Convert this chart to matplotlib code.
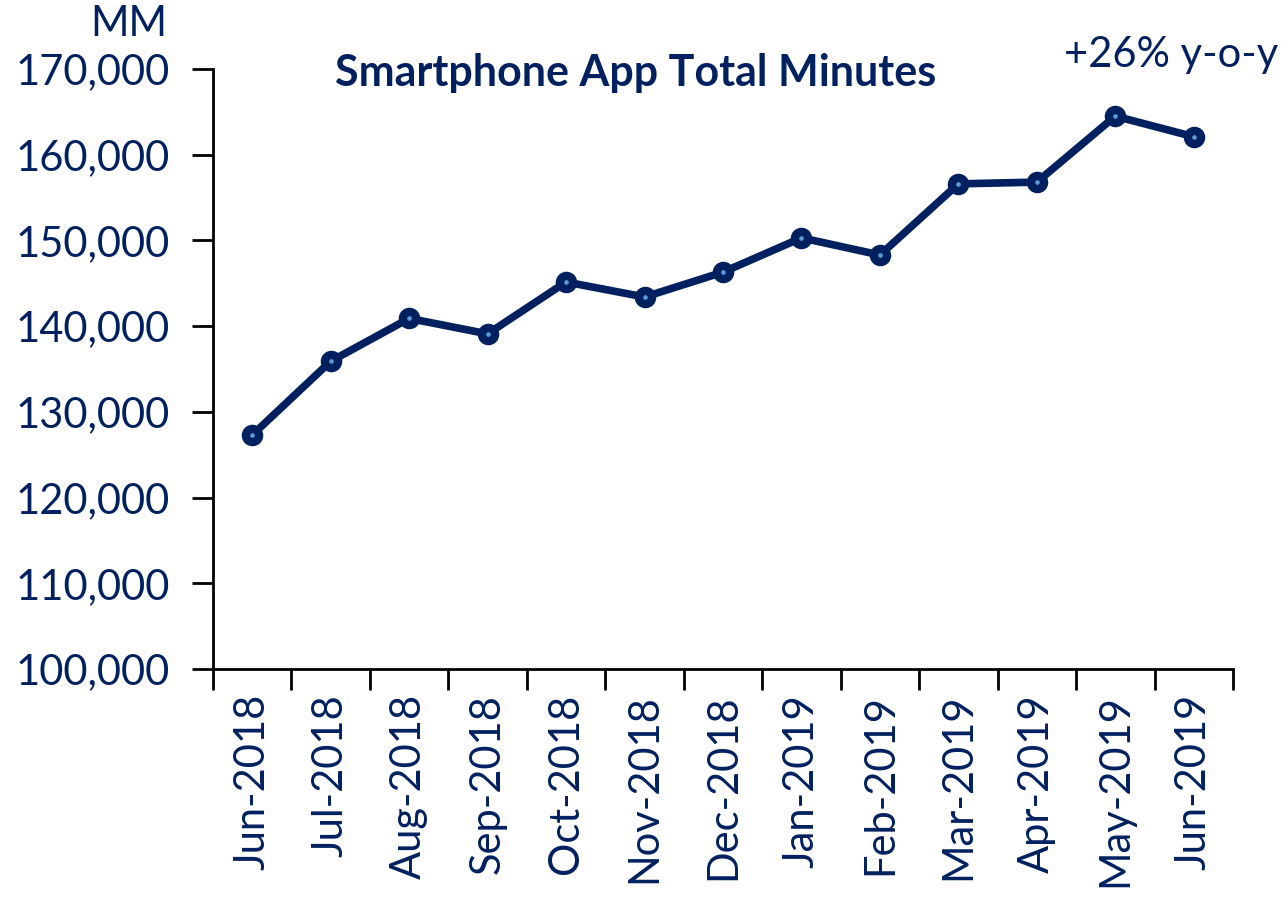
import matplotlib
matplotlib.use("Agg")
import matplotlib.pyplot as plt
from matplotlib.ticker import FuncFormatter

months = ['Jun-2018', 'Jul-2018', 'Aug-2018', 'Sep-2018', 'Oct-2018', 'Nov-2018',
          'Dec-2018', 'Jan-2019', 'Feb-2019', 'Mar-2019', 'Apr-2019', 'May-2019', 'Jun-2019']
minutes = [127300, 135900, 140900, 139100, 145150, 143400, 146300,
           150300, 148300, 156600, 156800, 164500, 162100]
y_ticks = [100000, 110000, 120000, 130000, 140000, 150000, 160000, 170000]

navy = '#002060'
dot = '#5b9bd5'
plt.rcParams['font.family'] = ['Lato', 'DejaVu Sans']

fig = plt.figure(figsize=(12.81, 8.97), dpi=100)
ax = fig.add_axes([213/1281, 1 - 669/897, (1233 - 213)/1281, 600/897])

x = list(range(len(months)))
ax.plot(x, minutes, color=navy, lw=5.5, marker='o', ms=9.5, mfc=dot,
        mec=navy, mew=6, solid_joinstyle='round', zorder=3)

ax.set_xlim(-0.5, len(months) - 0.5)
ax.set_ylim(100000, 170000)
ax.set_yticks(y_ticks)
ax.yaxis.set_major_formatter(FuncFormatter(lambda v, p: '{:,.0f}'.format(v)))

# category boundaries carry the tick marks, labels sit in between
ax.set_xticks([i - 0.5 for i in range(len(months) + 1)])
ax.set_xticklabels([])
ax.set_xticks(x, minor=True)
ax.set_xticklabels(months, minor=True, rotation=90)
ax.tick_params(axis='x', which='minor', length=0, pad=18, labelsize=30, labelcolor=navy)
ax.tick_params(axis='x', which='major', length=15, width=2, direction='out')
ax.tick_params(axis='y', length=15, width=2, direction='out', pad=16,
               labelsize=30, labelcolor=navy)

for s in ['top', 'right']:
    ax.spines[s].set_visible(False)
for s in ['left', 'bottom']:
    ax.spines[s].set_linewidth(2)

fig.text(167/1281, 1 - 24/897, 'MM', ha='right', va='center', fontsize=30, color=navy)
fig.text(636/1281, 1 - 73/897, 'Smartphone App Total Minutes', ha='center', va='center',
         fontsize=31, fontweight='bold', color=navy)
fig.text(1278/1281, 1 - 55/897, '+26% y-o-y', ha='right', va='center', fontsize=30, color=navy)

fig.savefig('out.png', dpi=100)
